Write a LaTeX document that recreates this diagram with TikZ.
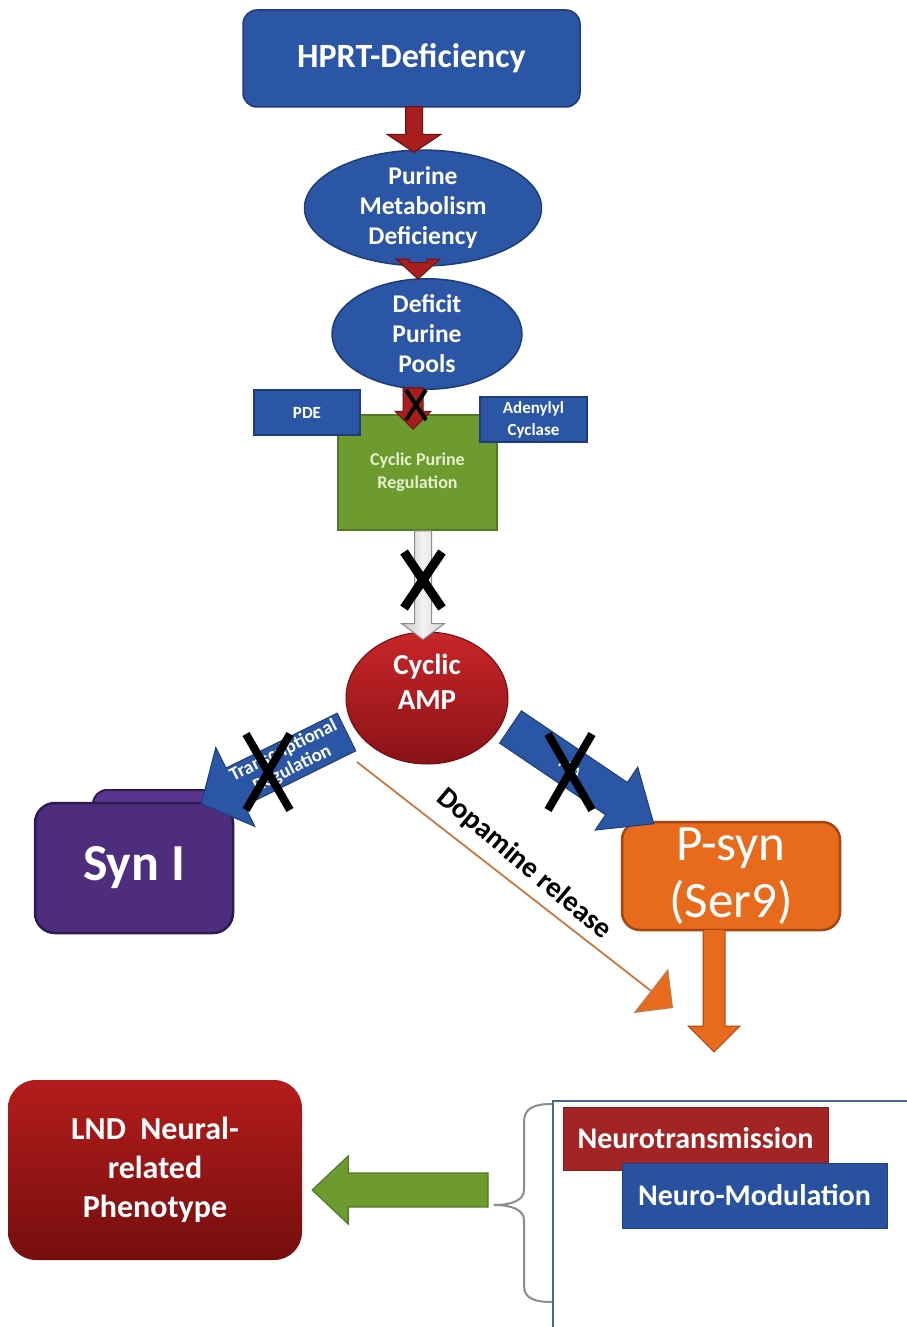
\documentclass[tikz,border=0pt]{standalone}
\usepackage{fontspec}
\setmainfont{Carlito}
\usetikzlibrary{shapes.geometric,calc,arrows.meta}
\definecolor{bluefill}{HTML}{2A56A5}
\definecolor{blueline}{HTML}{1E3D78}
\definecolor{redfill}{HTML}{A81E1E}
\definecolor{redline}{HTML}{6E1010}
\definecolor{greenfill}{HTML}{6E9B30}
\definecolor{greenline}{HTML}{527A22}
\definecolor{greentext}{HTML}{E6F0CC}
\definecolor{greyfill}{HTML}{D6D6D6}
\definecolor{greyline}{HTML}{8A8A8A}
\definecolor{purplefill}{HTML}{4E2D7E}
\definecolor{purpleback}{HTML}{5A3590}
\definecolor{purpleline}{HTML}{2E1A4E}
\definecolor{orangefill}{HTML}{E86A1C}
\definecolor{orangeline}{HTML}{A54710}
\definecolor{dopaline}{HTML}{C87840}
\definecolor{camptop}{HTML}{C8262A}
\definecolor{campbot}{HTML}{8A1216}
\definecolor{lndtop}{HTML}{B41C1C}
\definecolor{lndbot}{HTML}{760E0E}
\definecolor{ntfill}{HTML}{A32424}
\definecolor{nmfill}{HTML}{2852A0}
\definecolor{boxline}{HTML}{4A6890}
\definecolor{bracegrey}{HTML}{8C8C8C}

\newcommand\blockarrow[6]{%
  \coordinate (ban) at ($(#3)!#6!(#2)$);
  \draw[#1] ($(#2)!#4!90:(#3)$) -- ($(ban)!#4!90:(#3)$) -- ($(ban)!#5!90:(#3)$) -- (#3)
    -- ($(ban)!#5!-90:(#3)$) -- ($(ban)!#4!-90:(#3)$) -- ($(#2)!#4!-90:(#3)$) -- cycle;}
\newcommand\xmark[4]{%
  \draw[black, line width=#4, line cap=butt] ($(#1)+(-#2,-#3)$) -- ($(#1)+(#2,#3)$);
  \draw[black, line width=#4, line cap=butt] ($(#1)+(#2,-#3)$) -- ($(#1)+(-#2,#3)$);}

\begin{document}
\begin{tikzpicture}[x=1pt,y=-1pt,
  every node/.style={inner sep=0pt, align=center, text=white, font=\bfseries},
  bluebox/.style={draw=blueline, fill=bluefill, line width=1.5pt},
  blueoval/.style={ellipse, draw=blueline, fill=bluefill, line width=1.5pt},
  redarrow/.style={draw=redline, fill=redfill, line width=1pt, line join=miter},
  greyarrow/.style={draw=greyline, left color=greyfill!80!gray, right color=greyfill, middle color=white!90!gray, line width=1pt},
  bluearrow/.style={draw=blueline, fill=bluefill, line width=1pt},
  orangearrow/.style={draw=orangeline, fill=orangefill, line width=1pt},
  greenarrow/.style={draw=greenline, fill=greenfill, line width=1.2pt},
]
\useasboundingbox (0,0) rectangle (906,1327);
\fill[white] (0,0) rectangle (906,1327);

% top chain
\node[bluebox, rounded corners=14pt, minimum width=337pt, minimum height=97pt,
  font=\bfseries\fontsize{34}{38}\selectfont] (hprt) at (411.5,58.5) {HPRT-Deficiency};
\node[blueoval, minimum width=237pt, minimum height=96pt,
  font=\bfseries\fontsize{25.5}{30}\selectfont] (pm) at (423,208) {Purine\\Metabolism\\Deficiency};
\node[blueoval, minimum width=190pt, minimum height=88pt,
  font=\bfseries\fontsize{25.5}{30}\selectfont] (dpp) at (427,334) {Deficit\\Purine\\Pools};

\node[draw=greenline, fill=greenfill, line width=1.5pt, minimum width=159pt, minimum height=115pt,
  text=greentext, font=\bfseries\fontsize{18}{23}\selectfont] (cpr) at (417.5,472.5) {Cyclic Purine\\Regulation};
\node[bluebox, minimum width=106pt, minimum height=45pt,
  font=\bfseries\fontsize{17}{20}\selectfont] (pde) at (307,412.5) {PDE};
\node[bluebox, minimum width=107pt, minimum height=45pt,
  font=\bfseries\fontsize{17}{22}\selectfont] (ac) at (533.5,419.5) {Adenylyl\\Cyclase};

\node[ellipse, draw=campbot!80!black, top color=camptop, bottom color=campbot, line width=1pt,
  minimum width=162pt, minimum height=132pt] (camp) at (427,698) {};
\node[font=\bfseries\fontsize{29}{35}\selectfont] (campt) at (427,682) {Cyclic\\AMP};

% Syn I
\node[draw=purpleline, fill=purpleback, line width=2pt, rounded corners=14pt,
  minimum width=132pt, minimum height=60pt] (synb) at (159,820) {};
\node[draw=purpleline, fill=purplefill, line width=2.5pt, rounded corners=20pt,
  minimum width=198pt, minimum height=130pt,
  font=\bfseries\fontsize{52}{56}\selectfont] (syn) at (134,868) {Syn I};

% P-syn
\node[draw=orangeline, fill=orangefill, line width=2.5pt, rounded corners=18pt,
  minimum width=218pt, minimum height=108pt,
  font=\fontsize{51}{57}\selectfont] (psyn) at (731,876) {P-syn\\(Ser9)};

% bottom
\node[top color=lndtop, bottom color=lndbot, rounded corners=28pt,
  minimum width=294pt, minimum height=180pt,
  font=\bfseries\fontsize{32}{39}\selectfont] (lnd) at (155,1170) {LND\ \ Neural-\\related\\Phenotype};
\node[draw=boxline, line width=2pt, fill=white, anchor=north west,
  minimum width=370pt, minimum height=240pt] (obox) at (552,1100) {};
\node[fill=ntfill, draw=ntfill!80!black, line width=0.8pt, minimum width=265pt, minimum height=63pt,
  font=\bfseries\fontsize{30}{32}\selectfont] (nt) at (695.5,1138.5) {Neurotransmission};
\node[fill=nmfill, draw=nmfill!80!black, line width=0.8pt, minimum width=265pt, minimum height=65pt,
  font=\bfseries\fontsize{30}{32}\selectfont] (nm) at (754.5,1195.5) {Neuro-Modulation};

% brace
\draw[bracegrey, line width=2pt] (552,1104) .. controls (534,1104) and (524,1108) .. (524,1122)
  -- (524,1190) .. controls (524,1200) and (512,1205) .. (494,1205)
  .. controls (512,1205) and (524,1210) .. (524,1220)
  -- (524,1286) .. controls (524,1298) and (534,1302) .. (552,1302);

% connector coordinates
\coordinate (a1s) at ($(hprt.south)+(2.5,-1)$);
\coordinate (a1e) at ($(pm.north)+(-9,3)$);
\coordinate (a2s) at ($(pm.south)+(-5,-4)$);
\coordinate (a2e) at ($(dpp.north)+(-9,1)$);
\coordinate (a3s) at ($(dpp.south)+(-14,-2)$);
\coordinate (a3e) at ($(cpr.north)+(-4.5,15)$);
\coordinate (gs) at ($(cpr.south)+(5.5,0)$);
\coordinate (ge) at ($(camp.north)+(-4,8)$);
\coordinate (lbs) at ($(camp.west)+(1,34)$);
\coordinate (lbe) at ($(syn.north east)+(-33,2)$);
\coordinate (rbs) at ($(camp.east)+(2,29)$);
\coordinate (rbe) at ($(psyn.north west)+(33,3)$);
\coordinate (os) at ($(psyn.south)+(-17,-2)$);
\coordinate (oe) at (714,1052);
\coordinate (ds) at ($(camp.center)+(-70,64)$);
\coordinate (de) at (673,1008);
\coordinate (grs) at (488,1190);
\coordinate (gre) at ($(lnd.east)+(10,20)$);

% arrows
\blockarrow{redarrow}{a1s}{a1e}{8.5pt}{27pt}{18pt}
\blockarrow{redarrow}{a2s}{a2e}{9pt}{22pt}{20pt}
\blockarrow{redarrow}{a3s}{a3e}{10pt}{18pt}{18pt}
\blockarrow{greyarrow}{gs}{ge}{8.5pt}{21.5pt}{16pt}
\blockarrow{bluearrow}{lbs}{lbe}{21pt}{44pt}{38pt}
\blockarrow{bluearrow}{rbs}{rbe}{19.5pt}{38pt}{45pt}
\blockarrow{orangearrow}{os}{oe}{11pt}{26pt}{26pt}
\blockarrow{greenarrow}{grs}{gre}{17pt}{34pt}{36pt}

\draw[dopaline, line width=1.8pt, -{Triangle[length=28pt,width=56pt,fill=orangefill]}] (ds) -- (de);
\node[text=black, rotate=-40, font=\bfseries\fontsize{29}{32}\selectfont] (dopa) at (524,864) {Dopamine release};

\node[rotate=26.4, font=\bfseries\fontsize{19}{20}\selectfont] (trl) at (288,760) {Transcriptional\\Regulation};
\node[rotate=-34, font=\bfseries\fontsize{14}{16}\selectfont] (pka) at (570,768) {PKA};

% X marks
\coordinate (x1) at (416,405);
\coordinate (x2) at (423,580);
\coordinate (x3) at (268,772);
\coordinate (x4) at (570,772);
\xmark{x1}{10pt}{15pt}{4pt}
\xmark{x2}{19pt}{28pt}{9pt}
\xmark{x3}{22pt}{38pt}{8pt}
\xmark{x4}{22pt}{38pt}{8pt}
\end{tikzpicture}
\end{document}
